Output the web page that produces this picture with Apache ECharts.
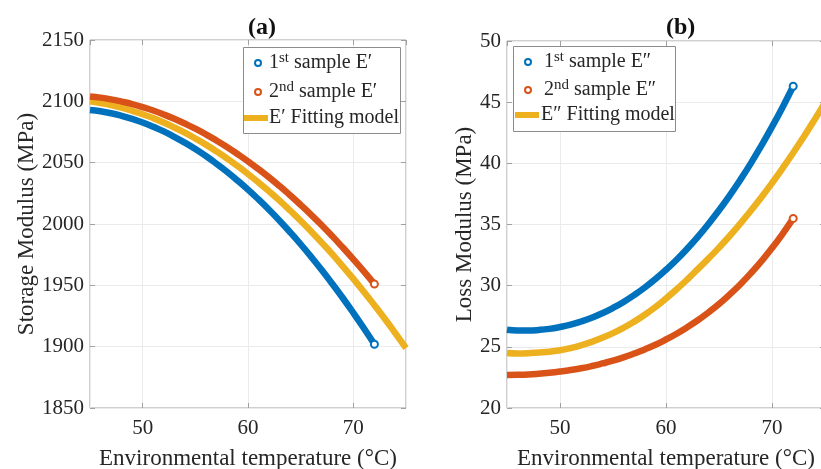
<!DOCTYPE html>
<html><head><meta charset="utf-8">
<script src="https://cdn.jsdelivr.net/npm/echarts@6/dist/echarts.min.js"></script>
<style>html,body{margin:0;padding:0;background:#fff}#c{width:821px;height:469px}</style>
</head><body><div id="c"></div>
<script>
// ---- data ----
const tempSample = [45,46,47,48,49,50,51,52,53,54,55,56,57,58,59,60,61,62,63,64,65,66,67,68,69,70,71,72];
const tempFit = [45,46,47,48,49,50,51,52,53,54,55,56,57,58,59,60,61,62,63,64,65,66,67,68,69,70,71,72,73,74,75];
const storage1 = [2093.0,2091.9,2090.3,2088.2,2085.7,2082.8,2079.3,2075.5,2071.1,2066.3,2061.1,2055.4,2049.2,2042.6,2035.5,2028.0,2020.0,2011.6,2002.7,1993.3,1983.5,1973.2,1962.5,1951.3,1939.7,1927.6,1915.0,1902.0];
const storage2 = [2104.0,2103.0,2101.6,2099.8,2097.8,2095.3,2092.5,2089.3,2085.8,2081.9,2077.7,2073.1,2068.1,2062.8,2057.1,2051.1,2044.7,2038.0,2030.9,2023.4,2015.6,2007.5,1999.0,1990.1,1980.8,1971.2,1961.3,1951.0];
const storageFit = [2100.0,2098.6,2096.9,2094.8,2092.3,2089.5,2086.3,2082.7,2078.7,2074.4,2069.7,2064.7,2059.3,2053.5,2047.3,2040.8,2033.9,2026.6,2019.0,2011.0,2002.7,1993.9,1984.8,1975.4,1965.5,1955.3,1944.8,1933.8,1922.5,1910.8,1898.8];
const loss1 = [26.40,26.34,26.34,26.38,26.47,26.62,26.81,27.07,27.38,27.75,28.18,28.67,29.23,29.85,30.54,31.30,32.12,33.02,33.99,35.04,36.16,37.36,38.64,40.00,41.45,42.98,44.59,46.30];
const loss2 = [22.70,22.71,22.74,22.80,22.88,22.98,23.10,23.25,23.43,23.64,23.87,24.14,24.45,24.79,25.17,25.60,26.07,26.60,27.17,27.81,28.50,29.27,30.10,31.01,32.00,33.07,34.24,35.50];
const lossFit = [24.50,24.46,24.48,24.54,24.60,24.72,24.90,25.13,25.41,25.74,26.12,26.56,27.06,27.62,28.25,28.95,29.70,30.50,31.35,32.21,33.11,34.06,35.07,36.12,37.23,38.39,39.60,40.86,42.18,43.55,44.97];
const xRange = [45, 75];
const xStep = 10;
const storageRange = [1850, 2150];
const storageStep = 50;
const lossRange = [20, 50];
const lossStep = 5;
const panelTitles = ['(a)', '(b)'];
const namesA = ['1st sample E\u2032', '2nd sample E\u2032', 'E\u2032 Fitting model'];
const namesB = ['1st sample E\u2033', '2nd sample E\u2033', 'E\u2033 Fitting model'];
const xName = 'Environmental temperature (\u00B0C)';
const yNames = ['Storage Modulus (MPa)', 'Loss Modulus (MPa)'];

// ---- styling ----
const FONT = '"Liberation Serif","Times New Roman",serif';
const TXT = '#262626';
const C_BLUE = '#0072BD', C_ORANGE = '#D95319', C_YELLOW = '#EDB120';
const BORDER = '#a0a0a0', GRIDC = '#ebebeb';

function pairs(xs, ys, endMarker) {
  return xs.map((x, i) => {
    const it = { value: [x, ys[i]] };
    if (endMarker && i === xs.length - 1) { it.symbol = 'emptyCircle'; it.symbolSize = 7; }
    return it;
  });
}
const plain = v => String(v);

function xAxes(g) {
  const base = {
    gridIndex: g, type: 'value', min: xRange[0], max: xRange[1],
    splitNumber: 3, minInterval: xStep, maxInterval: xStep
  };
  return [
    Object.assign({}, base, {
      position: 'bottom',
      axisLine: { show: false },
      axisTick: { inside: true, length: 5, lineStyle: { color: BORDER } },
      axisLabel: { showMinLabel: false, showMaxLabel: false, margin: 10, fontFamily: FONT, fontSize: 21, color: TXT, formatter: plain },
      splitLine: { show: true, lineStyle: { color: GRIDC, width: 1 } },
      name: xName, nameLocation: 'middle', nameGap: 39,
      nameTextStyle: { fontFamily: FONT, fontSize: 23, color: TXT }
    }),
    Object.assign({}, base, {
      position: 'top',
      axisLine: { show: false },
      axisTick: { inside: true, length: 5, lineStyle: { color: BORDER } },
      axisLabel: { show: false }, splitLine: { show: false }
    })
  ];
}
function yAxes(g, range, step, name, gap) {
  const base = { gridIndex: g, type: 'value', min: range[0], max: range[1], interval: step };
  return [
    Object.assign({}, base, {
      position: 'left',
      axisLine: { show: false },
      axisTick: { inside: true, length: 5, lineStyle: { color: BORDER } },
      axisLabel: { margin: 6, fontFamily: FONT, fontSize: 21, color: TXT, formatter: plain },
      splitLine: { show: true, lineStyle: { color: GRIDC, width: 1 } },
      name: name, nameLocation: 'middle', nameGap: gap,
      nameTextStyle: { fontFamily: FONT, fontSize: 23, color: TXT }
    }),
    Object.assign({}, base, {
      position: 'right',
      axisLine: { show: false },
      axisTick: { inside: true, length: 5, lineStyle: { color: BORDER } },
      axisLabel: { show: false }, splitLine: { show: false }
    })
  ];
}

function lineSeries(name, xi, yi, xs, ys, color, endMarker) {
  return {
    name: name, type: 'line', xAxisIndex: xi, yAxisIndex: yi,
    data: pairs(xs, ys, endMarker),
    symbol: 'none', showSymbol: true, smooth: true,
    lineStyle: { color: color, width: 6.5 },
    itemStyle: { color: color, borderColor: color, borderWidth: 1.5 },
    animation: false, z: 3
  };
}

function fmt(name) {
  const m = name.match(/^(\d)(st|nd) (.*)$/);
  if (m) return '{n|' + m[1] + '}{s|' + m[2] + '}{n| ' + m[3] + '}';
  return '{n|' + name + '}';
}
const rich = {
  n: { fontFamily: FONT, fontSize: 20, color: TXT, lineHeight: 24 },
  s: { fontFamily: FONT, fontSize: 15, color: TXT, lineHeight: 14, verticalAlign: 'top' }
};
function legend(name, left, cy, isFit, textPad) {
  return {
    left: left, top: cy - 12, padding: 0, selectedMode: false, z: 8,
    data: [name], icon: isFit ? 'rect' : 'emptyCircle',
    itemWidth: isFit ? 24 : 6, itemHeight: isFit ? 6 : 6,
    itemStyle: isFit ? { borderWidth: 0 } : { borderWidth: 1.2 },
    formatter: fmt,
    textStyle: { rich: rich, padding: [0, 0, 0, textPad] }
  };
}

const chart = echarts.init(document.getElementById('c'), null, { renderer: 'canvas' });
const gridBase = { show: true, borderColor: BORDER, borderWidth: 1, backgroundColor: 'transparent', containLabel: false, outerBoundsMode: 'none' };
chart.setOption({
  animation: false,
  backgroundColor: '#fff',
  grid: [
    Object.assign({ left: 90, top: 40, width: 316, height: 368 }, gridBase),
    Object.assign({ left: 507, top: 41, width: 318, height: 367 }, gridBase)
  ],
  xAxis: xAxes(0).concat(xAxes(1)),
  yAxis: yAxes(0, storageRange, storageStep, yNames[0], 45).concat(yAxes(1, lossRange, lossStep, yNames[1], 30)),
  legend: [
    legend(namesA[0], 254, 63, false, 3),
    legend(namesA[1], 254, 92, false, 3),
    legend(namesA[2], 244, 120, true, -4),
    legend(namesB[0], 524, 62, false, 8),
    legend(namesB[1], 524, 90, false, 8),
    legend(namesB[2], 515, 117, true, -3)
  ],
  graphic: [
    { type: 'text', left: 248, top: 16, style: { text: panelTitles[0], font: 'bold 24px ' + FONT, fill: '#111', textAlign: 'center' } },
    { type: 'text', left: 666, top: 16, style: { text: panelTitles[1], font: 'bold 24px ' + FONT, fill: '#111', textAlign: 'center' } },
    { type: 'rect', shape: { x: 243.5, y: 47.5, width: 157, height: 86 }, style: { fill: '#fff', stroke: '#8c8c8c', lineWidth: 1 }, z: 5 },
    { type: 'rect', shape: { x: 513.5, y: 46.5, width: 162, height: 85 }, style: { fill: '#fff', stroke: '#8c8c8c', lineWidth: 1 }, z: 5 }
  ],
  series: [
    lineSeries(namesA[2], 0, 0, tempFit, storageFit, C_YELLOW, false),
    lineSeries(namesA[1], 0, 0, tempSample, storage2, C_ORANGE, true),
    lineSeries(namesA[0], 0, 0, tempSample, storage1, C_BLUE, true),
    lineSeries(namesB[2], 2, 2, tempFit, lossFit, C_YELLOW, false),
    lineSeries(namesB[1], 2, 2, tempSample, loss2, C_ORANGE, true),
    lineSeries(namesB[0], 2, 2, tempSample, loss1, C_BLUE, true)
  ]
});
</script></body></html>
